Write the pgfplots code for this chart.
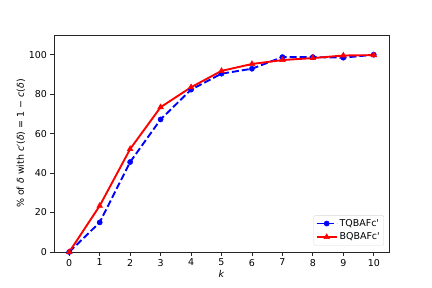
\documentclass[border=0pt]{standalone}
\usepackage{fontspec}
\setmainfont{DejaVu Sans}
\usepackage{unicode-math}
\setmathfont{Latin Modern Math}
\usepackage{pgfplots}
\pgfplotsset{compat=1.18}
\newfontfamily\dvi{DejaVu Sans Oblique}
\begin{document}
\begin{tikzpicture}
\useasboundingbox (0,0) rectangle (432bp,288bp);
\begin{axis}[
  at={(54bp,36bp)}, anchor=south west,
  scale only axis, width=335bp, height=217bp,
  xmin=-0.5, xmax=10.5, ymin=0, ymax=110,
  xtick={0,1,...,10}, ytick={0,20,...,100},
  tick align=outside, tick pos=left,
  major tick length=3.5bp,
  axis line style={black!85, line width=0.8pt},
  tick style={black!85, line width=0.8pt},
  ticklabel style={font=\fontsize{9.5}{11}\selectfont},
  /pgf/number format/assume math mode=true,
  xlabel={\textit{k}},
  xlabel style={font=\fontsize{9.5}{11}\selectfont, yshift=3bp},
  ylabel={\% of {\dvi δ} with {\dvi c}′({\dvi δ}) = 1 − {\dvi c}({\dvi δ})},
  ylabel style={font=\fontsize{9.5}{11}\selectfont, yshift=-3bp},
  legend cell align=left,
  legend style={font=\fontsize{9.5}{11}\selectfont, draw=black!15, rounded corners=1.5pt, inner sep=2pt, row sep=1pt, at={(0.985,0.03)}, anchor=south east},
  legend image code/.code={
    \draw[mark repeat=2,mark phase=2,#1] plot coordinates {(0bp,0bp)(10bp,0bp)(20bp,0bp)};
  },
]
\addplot[blue, line width=1.9bp, dash pattern=on 7bp off 3bp, mark=*, mark size=2.6pt, mark options={solid, line width=0.5pt}] coordinates {
(0,0) (1,15.0) (2,45.6) (3,67.2) (4,82.3) (5,90.4) (6,92.9) (7,98.8) (8,98.8) (9,98.5) (10,100)
};
\addlegendentry{TQBAFc\textquotesingle}
\addplot[red, line width=1.9bp, mark=triangle*, mark size=3.3pt, mark options={solid, line width=0.5pt}] coordinates {
(0,0) (1,23.4) (2,52.2) (3,73.4) (4,83.5) (5,91.8) (6,95.3) (7,97.3) (8,98.3) (9,99.6) (10,99.8)
};
\addlegendentry{BQBAFc\textquotesingle}
\end{axis}
\end{tikzpicture}
\end{document}
